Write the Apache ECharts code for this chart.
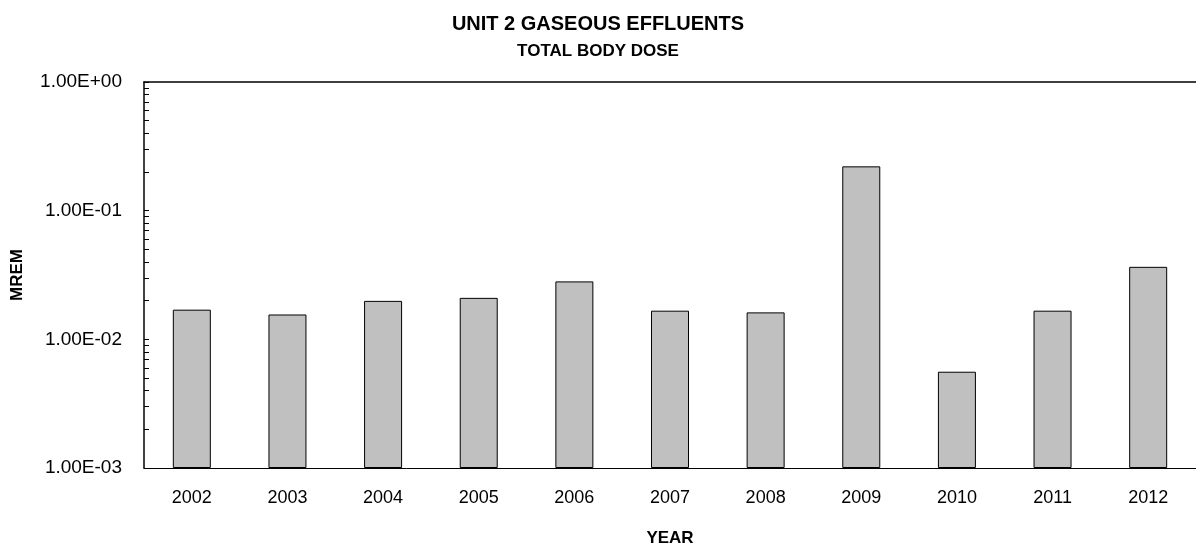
<!DOCTYPE html>
<html>
<head>
<meta charset="utf-8">
<script src="https://cdn.jsdelivr.net/npm/echarts@6/dist/echarts.min.js"></script>
<style>
html,body{margin:0;padding:0;background:#fff;}
#chart{width:1196px;height:552px;}
</style>
</head>
<body>
<div id="chart"></div>
<script>
const titleText = 'UNIT 2 GASEOUS EFFLUENTS';
const subtitleText = 'TOTAL BODY DOSE';
const years = ['2002','2003','2004','2005','2006','2007','2008','2009','2010','2011','2012'];
const doses = [0.0170, 0.0156, 0.0199, 0.0210, 0.0282, 0.0167, 0.0162, 0.221, 0.0056, 0.0167, 0.0366];
const yTickValues = [0.001, 0.01, 0.1, 1];
const yTickLabels = ['1.00E-03', '1.00E-02', '1.00E-01', '1.00E+00'];
const yMinorMultipliers = [2,3,4,5,6,7,8,9];

// ECharts starts log-axis bars at 1, so the axis runs in units of the axis minimum
// (axis min becomes 1); labels still show the original mrem values.
const unit = yTickValues[0];
const toAxis = function (v) { return +(v / unit).toPrecision(8); };

const tickPositions = [];
yTickValues.forEach(function (v, i) {
  tickPositions.push(toAxis(v));
  if (i < yTickValues.length - 1) {
    yMinorMultipliers.forEach(function (m) { tickPositions.push(toAxis(v * m)); });
  }
});

const chart = echarts.init(document.getElementById('chart'));
const FONT = '"Liberation Sans", Arial, sans-serif';
chart.setOption({
  animation: false,
  backgroundColor: '#fff',
  title: [
    { text: titleText, left: 'center', top: 9, textStyle: { fontFamily: FONT, fontWeight: 'bold', fontSize: 20, color: '#000' } },
    { text: subtitleText, left: 'center', top: 38, textStyle: { fontFamily: FONT, fontWeight: 'bold', fontSize: 17, color: '#000' } }
  ],
  grid: { left: 144, right: -8, top: 82, bottom: 73, containLabel: false },
  xAxis: [{
    type: 'category',
    data: years,
    name: 'YEAR',
    nameLocation: 'middle',
    nameGap: 62,
    nameTextStyle: { fontFamily: FONT, fontWeight: 'bold', fontSize: 17, color: '#000' },
    axisLine: { show: true, lineStyle: { color: '#000', width: 1 } },
    axisTick: { show: false },
    axisLabel: { fontFamily: FONT, fontSize: 18, color: '#000', margin: 21 },
    splitLine: { show: false }
  }, {
    type: 'category',
    data: years,
    position: 'top',
    axisLine: { show: true, lineStyle: { color: '#000', width: 1.5 } },
    axisTick: { show: false },
    axisLabel: { show: false },
    splitLine: { show: false }
  }],
  yAxis: {
    type: 'log',
    logBase: 10,
    min: toAxis(yTickValues[0]),
    max: toAxis(yTickValues[yTickValues.length - 1]),
    name: 'MREM',
    nameLocation: 'middle',
    nameGap: 118,
    nameRotate: 90,
    nameTextStyle: { fontFamily: FONT, fontWeight: 'bold', fontSize: 17, color: '#000' },
    axisLine: { show: true, lineStyle: { color: '#000', width: 1.5 } },
    axisTick: { show: true, inside: true, length: 5, customValues: tickPositions, lineStyle: { color: '#000', width: 1 } },
    axisLabel: {
      fontFamily: FONT, fontSize: 19, color: '#000', margin: 22,
      customValues: yTickValues.map(toAxis),
      formatter: function (v) {
        const idx = yTickValues.findIndex(function (t) { return Math.abs(Math.log10(toAxis(t)) - Math.log10(v)) < 1e-6; });
        return idx >= 0 ? yTickLabels[idx] : '';
      }
    },
    splitLine: { show: false }
  },
  series: [{
    type: 'bar',
    data: doses.map(toAxis),
    barWidth: 38,
    itemStyle: { color: '#c0c0c0', borderColor: '#000', borderWidth: 1 }
  }]
});
</script>
</body>
</html>
